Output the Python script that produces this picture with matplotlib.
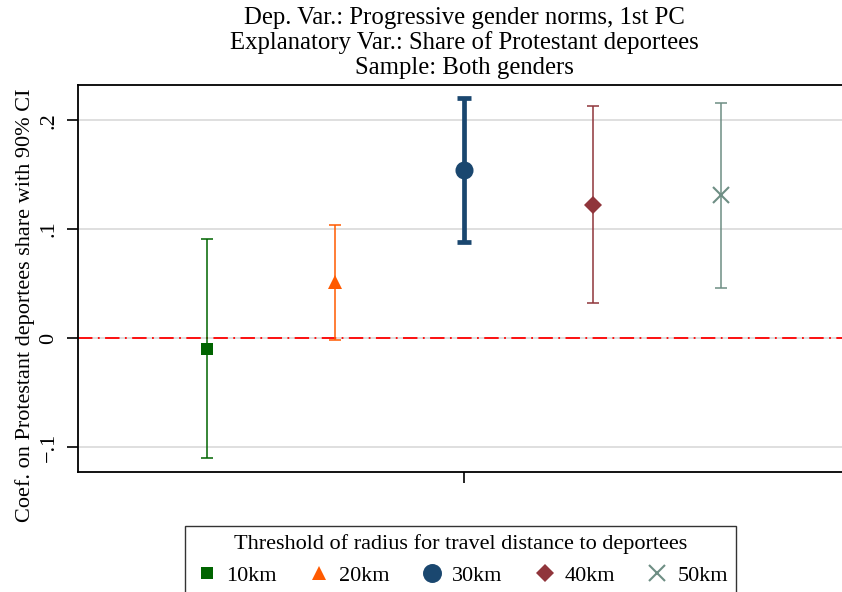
import numpy as np
import matplotlib
matplotlib.use("Agg")
import matplotlib.pyplot as plt
from matplotlib.lines import Line2D

# threshold radius categories and estimates
labels = ["10km", "20km", "30km", "40km", "50km"]
coef = [-0.010, 0.051, 0.154, 0.122, 0.131]
ci_low = [-0.110, -0.002, 0.088, 0.032, 0.046]
ci_high = [0.091, 0.104, 0.220, 0.213, 0.216]

colors = ["#006400", "#ff5a00", "#1a476f", "#90353b", "#6e8e84"]
markers = ["s", "^", "o", "D", "x"]
msizes = [8.7, 10, 13, 9, 11]
lwidths = [1.1, 1.1, 3.4, 1.1, 1.1]

yticks = [-0.1, 0, 0.1, 0.2]
ytick_labels = ["\u2212.1", "0", ".1", ".2"]

plt.rcParams["font.family"] = ["Liberation Serif", "DejaVu Serif"]

fig = plt.figure(figsize=(8.42, 5.92), dpi=100)
ax = fig.add_axes([0.0926, 0.2027, 0.92, 0.6537])

for i in range(len(labels)):
    x = i + 1
    ax.errorbar(x, coef[i], yerr=[[coef[i] - ci_low[i]], [ci_high[i] - coef[i]]],
                color=colors[i], lw=lwidths[i], capsize=4.5 if i != 2 else 5,
                capthick=lwidths[i], fmt="none", zorder=3)
    ax.plot(x, coef[i], marker=markers[i], color=colors[i], ms=msizes[i],
            mew=1.5 if markers[i] == "x" else 0, ls="none", zorder=4)

ax.axhline(0, color="red", lw=1.3, ls=(0, (8, 3, 1, 3)), zorder=2)

ax.set_xlim(0, 6.02)
ax.set_ylim(-0.123, 0.2323)
ax.set_xticks([3])
ax.set_xticklabels([""])
ax.set_yticks(yticks)
ax.set_yticklabels(ytick_labels, rotation=90, va="center", fontsize=16)
ax.grid(axis="y", color="#dcdcdc", lw=1.3, zorder=0)
ax.set_axisbelow(True)
ax.tick_params(axis="both", direction="out", length=8, width=1.2, pad=6)
ax.spines["right"].set_visible(False)
for s in ["left", "bottom", "top"]:
    ax.spines[s].set_linewidth(1.3)

ax.set_ylabel("Coef. on Protestant deportees share with 90% CI", fontsize=16)
ax.yaxis.set_label_coords(-0.056, 0.43)

fig.text(0.551, 0.988, "Dep. Var.: Progressive gender norms, 1st PC\n"
         "Explanatory Var.: Share of Protestant deportees\nSample: Both genders",
         ha="center", va="top", fontsize=17.8, linespacing=1.13)

handles = [Line2D([], [], marker=markers[i], color=colors[i], ls="none",
                  ms=msizes[i] * 1.05, mew=1.5 if markers[i] == "x" else 0)
           for i in range(len(labels))]
leg = fig.legend(handles, labels, ncol=5, loc="upper center",
                 bbox_to_anchor=(0.547, 0.111), frameon=True, fancybox=False,
                 edgecolor="black", fontsize=16, title_fontsize=16,
                 title="Threshold of radius for travel distance to deportees",
                 handletextpad=0.3, columnspacing=1.3, borderpad=0.35,
                 handlelength=1.2, borderaxespad=0)
leg.get_frame().set_linewidth(1.0)

fig.savefig("out.png", dpi=100)
